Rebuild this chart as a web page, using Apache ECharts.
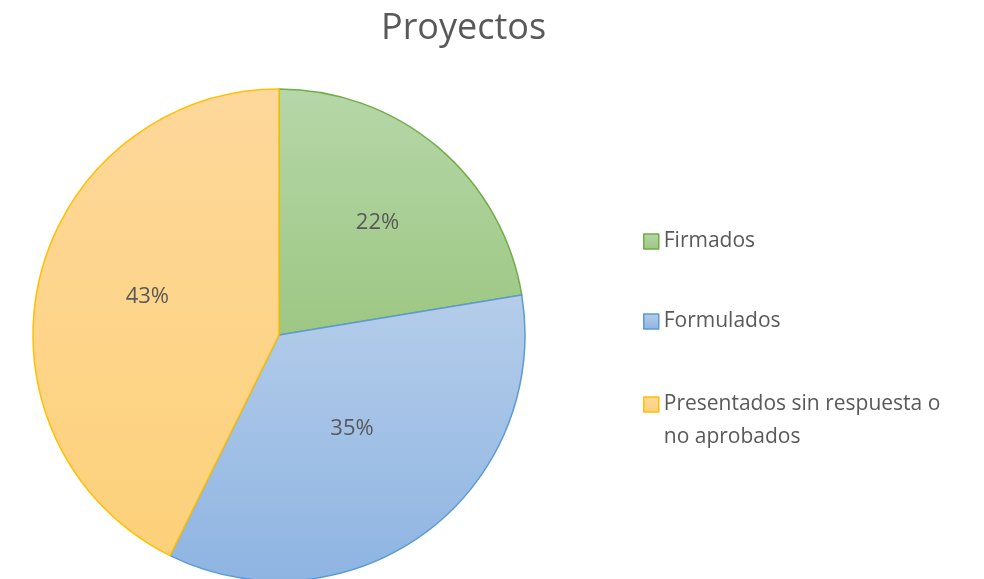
<!DOCTYPE html>
<html>
<head>
<meta charset="utf-8">
<script src="https://cdn.jsdelivr.net/npm/echarts@6/dist/echarts.min.js"></script>
<style>html,body{margin:0;padding:0;background:#fff}#c{width:984px;height:579px}</style>
</head>
<body>
<div id="c"></div>
<script>
const titleText = 'Proyectos';
const categories = ['Firmados', 'Formulados', 'Presentados sin respuesta o no aprobados'];
const values = [22.4, 34.9, 42.7];

const fills = [
  ['#b6d7a8', '#9dc783'],
  ['#b5cdea', '#8eb4e2'],
  ['#fed89b', '#fdd17a']
];
const borders = ['#70ad47', '#5b9bd5', '#ffc000'];
const labelShift = [[17, -16], [-2, -7], [-9, -10]];

const FONT = '"Open Sans"';
const GRAY = '#595959';

function grad(c) {
  return { type: 'linear', x: 0, y: 0, x2: 0, y2: 1,
    colorStops: [{ offset: 0, color: c[0] }, { offset: 1, color: c[1] }] };
}

const chart = echarts.init(document.getElementById('c'), null, { renderer: 'canvas' });
chart.setOption({
  animation: false,
  backgroundColor: '#fff',
  title: {
    text: titleText, left: 376, top: 6,
    textStyle: { fontFamily: FONT, fontSize: 36, fontWeight: 'normal', color: GRAY }
  },
  legend: [{
    data: categories.slice(0, 2),
    orient: 'vertical', left: 638, top: 226,
    itemWidth: 15, itemHeight: 15, itemGap: 59,
    icon: 'rect',
    itemStyle: { borderWidth: 1.5 },
    textStyle: { fontFamily: FONT, fontSize: 21, color: GRAY }
  }, {
    data: [categories[2]],
    orient: 'vertical', left: 638, top: 350,
    itemWidth: 15, itemHeight: 15,
    icon: 'rect',
    itemStyle: { borderWidth: 1.5 },
    formatter: function (n) { return '\n' + n.replace(' o no ', ' o\nno '); },
    textStyle: { fontFamily: FONT, fontSize: 21, color: GRAY, lineHeight: 33 }
  }],
  series: [{
    type: 'pie',
    center: [279, 335],
    radius: 246,
    startAngle: 90,
    clockwise: true,
    percentPrecision: 0,
    label: {
      show: true, position: 'inside', formatter: '{d}%',
      fontFamily: FONT, fontSize: 22, color: GRAY
    },
    labelLine: { show: false },
    labelLayout: function (p) {
      const s = labelShift[p.dataIndex];
      return { dx: s[0], dy: s[1] };
    },
    emphasis: { disabled: true },
    data: categories.map(function (n, i) {
      return { name: n, value: values[i],
        itemStyle: { color: grad(fills[i]), borderColor: borders[i], borderWidth: 1.5 } };
    })
  }]
});
</script>
</body>
</html>
